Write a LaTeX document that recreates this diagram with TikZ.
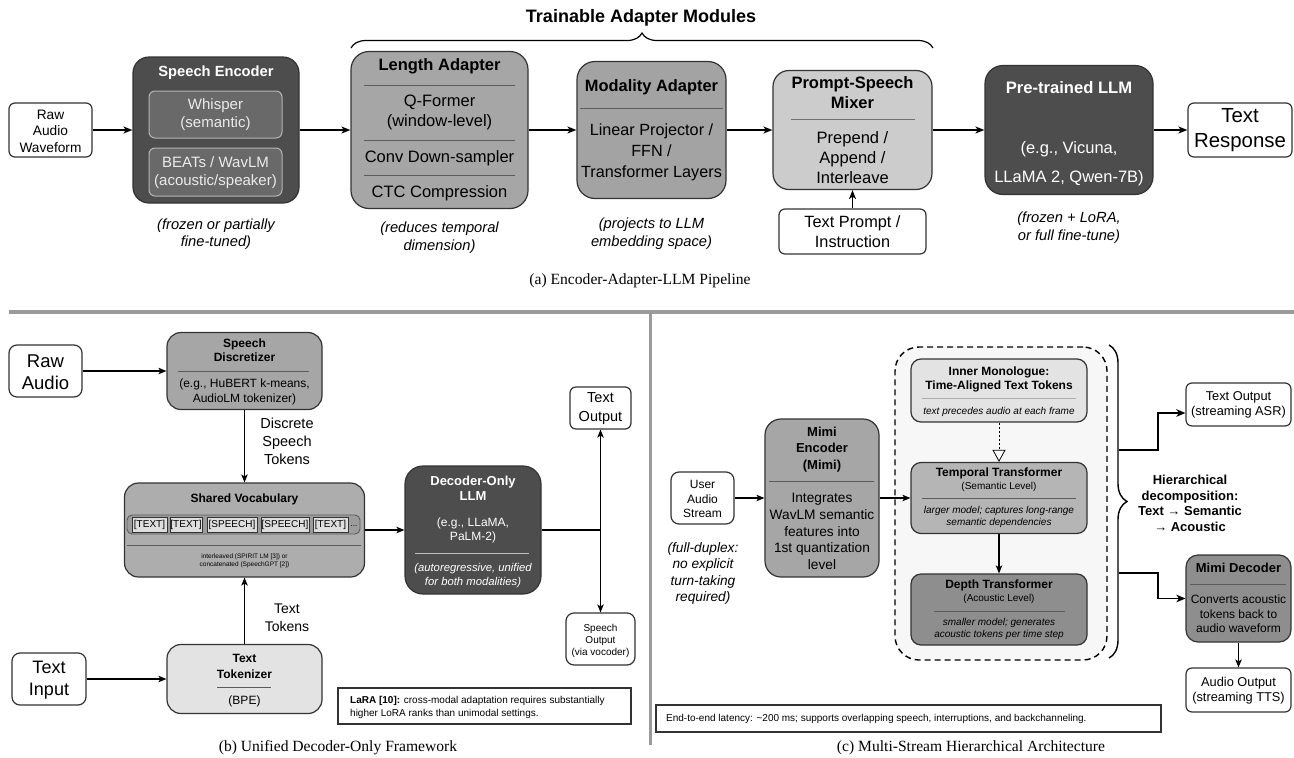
\documentclass[tikz,border=0pt]{standalone}
\usepackage{fontspec}
\setmainfont{Liberation Sans}
\newfontfamily\capfont{Liberation Serif}
\usetikzlibrary{arrows.meta,decorations.pathreplacing,calc}
\definecolor{bdr}{HTML}{333333}
\definecolor{cdark}{HTML}{4D4D4D}
\definecolor{cinner}{HTML}{696969}
\definecolor{cinbdr}{HTML}{B5B5B5}
\definecolor{cmid}{HTML}{A6A6A6}
\definecolor{cmod}{HTML}{A3A3A3}
\definecolor{clight}{HTML}{CCCCCC}
\definecolor{cvlight}{HTML}{E3E3E3}
\definecolor{ctemp}{HTML}{B5B5B5}
\definecolor{cdepth}{HTML}{8E8E8E}
\definecolor{ccont}{HTML}{F7F7F7}
\definecolor{cvoc}{HTML}{ADADAD}
\definecolor{crow}{HTML}{9C9C9C}
\definecolor{ctok}{HTML}{DEDEDE}
\definecolor{csep}{HTML}{9A9A9A}
\newcommand\fsz[2]{\fontsize{#1}{#2}\selectfont}
\begin{document}
\begin{tikzpicture}[x=1pt,y=-1pt,
  bx/.style={draw=bdr, line width=1.2pt, inner sep=0pt},
  wbx/.style={bx, fill=white},
  txt/.style={inner sep=0pt, align=center},
  sepl/.style={draw=#1, line width=0.9pt},
  arra/.style={draw=black, line width=1.4pt, -{Stealth[length=9pt,width=7pt,inset=2.5pt]}},
  arrb/.style={draw=black, line width=1.2pt, -{Stealth[length=8pt,width=6.5pt,inset=2pt]}},
  arrc/.style={draw=black, line width=1.8pt, -{Stealth[length=9pt,width=7.5pt,inset=2.5pt]}},
  capt/.style={txt, font=\capfont\fsz{15.6}{18}},
  ital/.style={txt, font=\itshape\fsz{14.7}{17.5}}
]
\useasboundingbox (0,0) rectangle (1294,758);

% ================= Panel (a) =================
\node[txt, font=\bfseries\fsz{18}{20}] (tam) at (641,18) {Trainable Adapter Modules};
\draw[line width=1.2pt, decorate, decoration={brace, amplitude=15pt}] (351,48) -- (933,48);

\node[wbx, rounded corners=6pt, minimum width=83pt, minimum height=54pt] (raw) at (50.5,130) {};
\node[txt, font=\fsz{13.7}{16.5}] (rawt) at (50.5,131) {Raw\\Audio\\Waveform};

\node[bx, fill=cdark, rounded corners=16pt, minimum width=166pt, minimum height=146pt] (enc) at (216,130) {};
\node[txt, font=\bfseries\fsz{14.7}{17}, text=white] (enct) at (216,73) {Speech Encoder};
\node[draw=cinbdr, line width=1pt, fill=cinner, rounded corners=6pt, minimum width=133pt, minimum height=47pt] (whisper) at (215.5,114.5) {};
\node[txt, font=\fsz{15}{18}, text=white!92!black] (whispert) at (215.5,115) {Whisper\\(semantic)};
\node[draw=cinbdr, line width=1pt, fill=cinner, rounded corners=6pt, minimum width=133pt, minimum height=48pt] (beats) at (215.5,172) {};
\node[txt, font=\fsz{15}{18}, text=white!92!black] (beatst) at (215.5,172.5) {BEATs / WavLM\\(acoustic/speaker)};

\node[bx, fill=cmid, rounded corners=18pt, minimum width=177pt, minimum height=157pt] (len) at (439.5,130) {};
\node[txt, font=\bfseries\fsz{16.5}{19}] (lent) at (439.5,66) {Length Adapter};
\draw[sepl=bdr!80] (364,85) -- (515,85);
\node[txt, font=\fsz{16.5}{20}] (lenq) at (439.5,112.5) {Q-Former\\(window-level)};
\draw[sepl=bdr!80] (364,140) -- (515,140);
\node[txt, font=\fsz{16.5}{20}] (lenc) at (439.5,158) {Conv Down-sampler};
\draw[sepl=bdr!80] (364,175) -- (515,175);
\node[txt, font=\fsz{16.5}{20}] (lenctc) at (439.5,193) {CTC Compression};

\node[bx, fill=cmod, rounded corners=18pt, minimum width=149pt, minimum height=137pt] (mod) at (651.5,130) {};
\node[txt, font=\bfseries\fsz{16.4}{19}] (modt) at (651.5,87) {Modality Adapter};
\draw[sepl=bdr!80] (580,108) -- (723,108);
\node[txt, font=\fsz{16.2}{21}] (modx) at (651.5,152.5) {Linear Projector /\\FFN /\\Transformer Layers};

\node[bx, fill=clight, rounded corners=16pt, minimum width=159pt, minimum height=119pt] (mix) at (852.5,130) {};
\node[txt, font=\bfseries\fsz{16.5}{20}] (mixt) at (852.5,92.5) {Prompt-Speech\\Mixer};
\draw[sepl=bdr!70] (791,119) -- (915,119);
\node[txt, font=\fsz{16.5}{20}] (mixx) at (852.5,157.5) {Prepend /\\Append /\\Interleave};

\node[wbx, rounded corners=6pt, minimum width=147pt, minimum height=45pt] (tprompt) at (852.5,231.5) {};
\node[txt, font=\fsz{16.3}{20}] (tpromptt) at (852.5,232) {Text Prompt /\\Instruction};

\node[bx, fill=cdark, rounded corners=18pt, minimum width=168pt, minimum height=129pt] (llm) at (1069,130) {};
\node[txt, font=\bfseries\fsz{16.6}{19}, text=white] (llmt) at (1069,88) {Pre-trained LLM};
\node[txt, font=\fsz{16.5}{29}, text=white] (llmx) at (1069,164) {(e.g., Vicuna,\\LLaMA 2, Qwen-7B)};

\node[wbx, rounded corners=6pt, minimum width=104pt, minimum height=54pt] (resp) at (1240,130) {};
\node[txt, font=\fsz{20.4}{25}] (respt) at (1240,130.5) {Text\\Response};

\draw[arra] (raw) -- (enc);
\draw[arra] (enc) -- (len);
\draw[arra] (len) -- (mod);
\draw[arra] (mod) -- (mix);
\draw[arra] (mix) -- (llm);
\draw[arra] (llm) -- (resp);
\draw[arra] (tprompt) -- (mix);

\node[ital] (capenc) at (216,234) {(frozen or partially\\fine-tuned)};
\node[ital] (caplen) at (439.5,237.5) {(reduces temporal\\dimension)};
\node[ital] (capmod) at (651.5,233.5) {(projects to LLM\\embedding space)};
\node[ital] (capllm) at (1069,227.5) {(frozen + LoRA,\\or full fine-tune)};
\node[capt] (capa) at (640,281) {(a) Encoder-Adapter-LLM Pipeline};

% separators
\draw[draw=csep, line width=4pt] (9,312) -- (1294,312);
\draw[draw=csep, line width=3pt] (650,312) -- (650,745);

% ================= Panel (b) =================
\node[wbx, rounded corners=8pt, minimum width=73pt, minimum height=52pt] (rawb) at (45.5,371) {};
\node[txt, font=\fsz{18.5}{22}] (rawbt) at (45.5,372.5) {Raw\\Audio};

\node[bx, fill=cmid, rounded corners=14pt, minimum width=155pt, minimum height=77pt] (disc) at (244.5,371) {};
\node[txt, font=\bfseries\fsz{12}{14}] (disct) at (244.5,350.5) {Speech\\Discretizer};
\draw[sepl=bdr!80] (178,371) -- (309,371);
\node[txt, font=\fsz{12}{15}] (discx) at (244.5,392) {(e.g., HuBERT k-means,\\AudioLM tokenizer)};

\node[bx, fill=cvoc, rounded corners=14pt, minimum width=240pt, minimum height=94pt] (voc) at (244.5,530) {};
\node[txt, font=\bfseries\fsz{12}{14}] (voct) at (244.5,499) {Shared Vocabulary};
\node[draw=bdr!80, line width=0.9pt, fill=crow, rounded corners=5pt, minimum width=233pt, minimum height=19pt, inner sep=0pt] (row) at (243.5,524.5) {};
\tikzset{tokc/.style={draw=bdr, line width=0.6pt, fill=ctok, inner sep=0pt, minimum height=15pt, font=\fsz{10}{12}}}
\node[tokc, minimum width=35pt] (k1) at (149.5,524.5) {[TEXT]};
\node[tokc, minimum width=32pt] (k2) at (186,524.5) {[TEXT]};
\node[tokc, minimum width=50pt] (k3) at (232,524.5) {[SPEECH]};
\node[tokc, minimum width=48pt] (k4) at (285,524.5) {[SPEECH]};
\node[tokc, minimum width=35pt] (k5) at (330.5,524.5) {[TEXT]};
\node[txt, font=\fsz{8}{10}] (k6) at (354,526) {...};
\draw[sepl=bdr!80] (127,545) -- (361,545);
\node[txt, font=\fsz{6.5}{8}] (vocx) at (244.5,561) {interleaved (SPIRIT LM [3]) or\\concatenated (SpeechGPT [2])};

\node[bx, fill=cdark, rounded corners=18pt, minimum width=136pt, minimum height=128pt] (dllm) at (473,530) {};
\node[txt, font=\bfseries\fsz{13}{15}, text=white] (dllmt) at (473,488) {Decoder-Only\\LLM};
\node[txt, font=\fsz{12}{14}, text=white] (dllmx) at (473,530.5) {(e.g., LLaMA,\\PaLM-2)};
\draw[sepl=white!75!black] (415,553) -- (529,553);
\node[txt, font=\itshape\fsz{11.3}{14}, text=white] (dllmi) at (473,575.5) {(autoregressive, unified\\for both modalities)};

\node[wbx, rounded corners=6pt, minimum width=61pt, minimum height=42pt] (tout) at (600.5,408) {};
\node[txt, font=\fsz{14.5}{19}] (toutt) at (600.5,408.5) {Text\\Output};
\node[wbx, rounded corners=8pt, minimum width=69pt, minimum height=52pt] (sout) at (600.5,639) {};
\node[txt, font=\fsz{10}{12}] (soutt) at (600.5,640.5) {Speech\\Output\\(via vocoder)};

\node[wbx, rounded corners=8pt, minimum width=74pt, minimum height=52pt] (tin) at (49,679) {};
\node[txt, font=\fsz{18}{22}] (tint) at (49,680.5) {Text\\Input};

\node[bx, fill=cvlight, rounded corners=14pt, minimum width=155pt, minimum height=69pt] (tok) at (244.5,679) {};
\node[txt, font=\bfseries\fsz{12}{16}] (tokt) at (244.5,666.5) {Text\\Tokenizer};
\draw[sepl=bdr!80] (217,687) -- (271,687);
\node[txt, font=\fsz{12}{14}] (tokx) at (244.5,701.5) {(BPE)};

\draw[arrb] (rawb) -- (disc);
\draw[arrb] (disc) -- (voc);
\draw[arrb] (tok) -- (voc);
\draw[arrb] (tin) -- (tok);
\draw[arrb] (voc) -- (dllm);
\coordinate (jn) at (tout.south |- dllm.east);
\draw[line width=1.2pt] (dllm.east) -- (jn);
\draw[line width=1.2pt, {Stealth[length=8pt,width=6.5pt,inset=2pt]}-{Stealth[length=8pt,width=6.5pt,inset=2pt]}] (tout.south) -- (sout.north);

\node[txt, font=\fsz{14.5}{18}] (dst) at (287,441.5) {Discrete\\Speech\\Tokens};
\node[txt, font=\fsz{14}{18}] (ttk) at (287,617.5) {Text\\Tokens};

\node[draw=bdr, line width=1.2pt, inner sep=0pt, minimum width=293pt, minimum height=36pt] (lara) at (484.5,706) {};
\node[inner sep=0pt, align=left, anchor=west, font=\fsz{10}{13}] (larat) at (350,707) {\textbf{LaRA [10]:} cross-modal adaptation requires substantially\\higher LoRA ranks than unimodal settings.};

\node[capt] (capb) at (338,748) {(b) Unified Decoder-Only Framework};

% ================= Panel (c) =================
\node[wbx, rounded corners=8pt, minimum width=63pt, minimum height=52pt] (user) at (702.5,498) {};
\node[txt, font=\fsz{12}{14.5}] (usert) at (702.5,499) {User\\Audio\\Stream};
\node[txt, font=\itshape\fsz{13.7}{16.5}] (fd) at (703,573.5) {(full-duplex:\\no explicit\\turn-taking\\required)};

\node[bx, fill=cmid, rounded corners=16pt, minimum width=114pt, minimum height=158pt] (menc) at (822,498) {};
\node[txt, font=\bfseries\fsz{13}{16.5}] (menct) at (822,449.5) {Mimi\\Encoder\\(Mimi)};
\draw[sepl=bdr!80] (769,481) -- (874,481);
\node[txt, font=\fsz{13.7}{16.75}] (mencx) at (822,531.5) {Integrates\\WavLM semantic\\features into\\1st quantization\\level};

\node[draw=black, line width=1.4pt, dash pattern=on 6pt off 4pt, fill=ccont, rounded corners=24pt, minimum width=212pt, minimum height=313pt, inner sep=0pt] (cont) at (1001,503.5) {};

\node[bx, fill=cvlight, rounded corners=10pt, minimum width=176pt, minimum height=63pt] (mono) at (999,390.5) {};
\node[txt, font=\bfseries\fsz{12}{14}] (monot) at (999,379) {Inner Monologue:\\Time-Aligned Text Tokens};
\draw[sepl=bdr!40] (922,398) -- (1076,398);
\node[txt, font=\itshape\fsz{10}{12}] (monox) at (999,411.5) {text precedes audio at each frame};

\node[bx, fill=ctemp, rounded corners=10pt, minimum width=176pt, minimum height=71pt] (temp) at (999,498) {};
\node[txt, font=\bfseries\fsz{12}{14}] (tempt) at (999,473.5) {Temporal Transformer};
\node[txt, font=\fsz{10}{12}] (temps) at (999,486.5) {(Semantic Level)};
\draw[sepl=bdr!80] (922,498) -- (1076,498);
\node[txt, font=\itshape\fsz{10}{11.5}] (tempx) at (999,517) {larger model; captures long-range\\semantic dependencies};

\node[bx, fill=cdepth, rounded corners=10pt, minimum width=176pt, minimum height=71pt] (depth) at (999,609.5) {};
\node[txt, font=\bfseries\fsz{12}{14}] (deptht) at (999,585.5) {Depth Transformer};
\node[txt, font=\fsz{10}{12}] (depths) at (999,598.5) {(Acoustic Level)};
\draw[sepl=bdr!80] (934,611) -- (1065,611);
\node[txt, font=\itshape\fsz{10}{11.5}] (depthx) at (999,629) {smaller model; generates\\acoustic tokens per time step};

\draw[arrb] (user) -- (menc);
\draw[arrb] (menc.east) -- (temp.west |- menc.east);
\draw[arrb] (temp) -- (depth);
\draw[line width=0.8pt, dash pattern=on 2pt off 2pt, -{Triangle[length=12pt,width=13pt,fill=white,line width=0.8pt]}] (mono) -- (temp);

\draw[line width=1.4pt, decorate, decoration={brace, amplitude=18pt}] (1109,345) -- (1109,658);
\coordinate (bt) at (1119,450);
\coordinate (bb) at (1119,573);
\node[txt, font=\bfseries\fsz{13}{15.5}] (hier) at (1190,503.5) {Hierarchical\\decomposition:\\Text → Semantic\\→ Acoustic};

\node[wbx, rounded corners=6pt, minimum width=105pt, minimum height=43pt] (toutc) at (1238.5,404.5) {};
\node[txt, font=\fsz{12.8}{15}] (toutct) at (1238.5,405) {Text Output\\(streaming ASR)};

\node[bx, fill=cdepth, rounded corners=12pt, minimum width=105pt, minimum height=87pt] (mdec) at (1238.5,598.5) {};
\node[txt, font=\bfseries\fsz{13}{15}] (mdect) at (1238.5,568) {Mimi Decoder};
\draw[sepl=bdr!80] (1190,584) -- (1286,584);
\node[txt, font=\fsz{12}{14.5}] (mdecx) at (1238.5,614) {Converts acoustic\\tokens back to\\audio waveform};

\node[wbx, rounded corners=6pt, minimum width=105pt, minimum height=44pt] (aout) at (1238.5,690) {};
\node[txt, font=\fsz{12.8}{15}] (aoutt) at (1238.5,691) {Audio Output\\(streaming TTS)};

\draw[arrc] (bt) -- ++(39,0) |- ([yshift=-8.5pt]toutc.west);
\draw[arrc] (bb) -- ++(39,0) |- (mdec.west);
\draw[arrb] (mdec) -- (aout);

\node[draw=bdr, line width=1.2pt, inner sep=0pt, minimum width=505pt, minimum height=27pt] (lat) at (908.5,718.5) {};
\node[inner sep=0pt, anchor=west, font=\fsz{10}{12}] (latt) at (666,719) {End-to-end latency: \textasciitilde200 ms; supports overlapping speech, interruptions, and backchanneling.};

\node[capt] (capc) at (971,748) {(c) Multi-Stream Hierarchical Architecture};
\end{tikzpicture}
\end{document}
